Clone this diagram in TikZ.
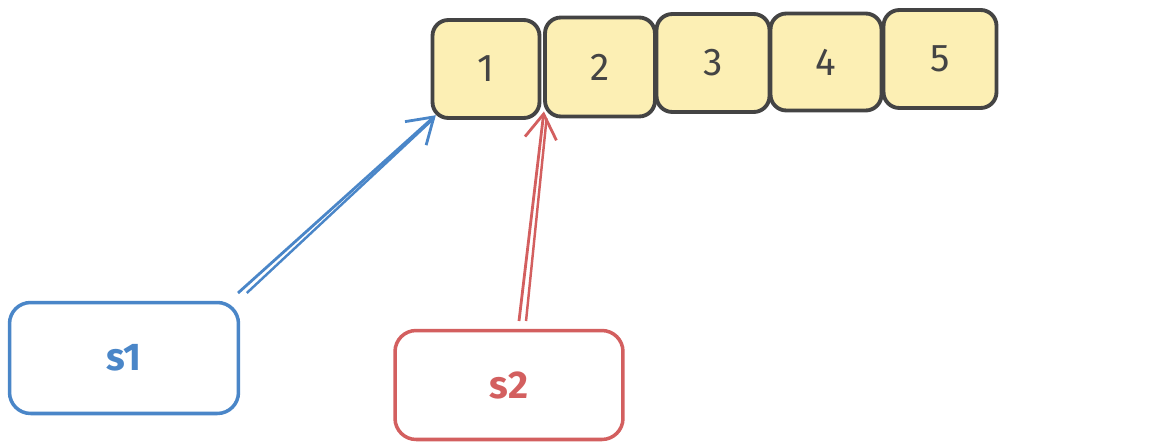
\documentclass[tikz,border=0pt]{standalone}
\usepackage{fontspec}
\setmainfont{Fira Sans}
\usetikzlibrary{arrows.meta}
\definecolor{cellfill}{HTML}{FCEFB4}
\definecolor{ink}{HTML}{444444}
\definecolor{blu}{HTML}{4A86C8}
\definecolor{rd}{HTML}{D35F5F}
\tikzset{
  cell/.style={draw=ink, line width=2.2pt, fill=cellfill, rounded corners=9pt, inner sep=0pt,
     font=\fontsize{22}{24}\selectfont, text=ink},
  sbox/.style={line width=2pt, rounded corners=12pt, inner sep=0pt, fill=white,
     font=\fontsize{22}{24}\selectfont\bfseries},
  arr/.style={line width=1.6pt, shorten >=-4pt, -{Straight Barb[length=14pt,width=18pt,line width=1.6pt]}}
}
\begin{document}
\begin{tikzpicture}[x=0.02cm,y=-0.02cm]
\useasboundingbox (0,0) rectangle (1152,446);
\node[cell, minimum width=2.14cm, minimum height=1.96cm] (c1) at (486,69) {1};
\node[cell, minimum width=2.2cm, minimum height=1.98cm] (c2) at (600,67) {2};
\node[cell, minimum width=2.26cm, minimum height=1.96cm] (c3) at (713,63) {3};
\node[cell, minimum width=2.22cm, minimum height=1.94cm] (c4) at (826,62) {4};
\node[cell, minimum width=2.26cm, minimum height=1.96cm] (c5) at (940,59) {5};
\node[sbox, draw=blu, text=blu, minimum width=4.58cm, minimum height=2.22cm] (s1) at (124,358) {s1};
\node[sbox, draw=rd, text=rd, minimum width=4.56cm, minimum height=2.18cm] (s2) at (509,385) {s2};
\coordinate (b0) at (238,293);
\coordinate (r0) at (519,321);
\draw[arr, blu] (b0) -- (c1.south west);
\draw[blu, line width=1.4pt] ([xshift=5pt]b0) -- ([shift={(2pt,1pt)}]c1.south west);
\draw[arr, rd] (r0) -- (c2.south west);
\draw[rd, line width=1.4pt] ([xshift=4pt]r0) -- ([xshift=2pt]c2.south west);
\end{tikzpicture}
\end{document}
